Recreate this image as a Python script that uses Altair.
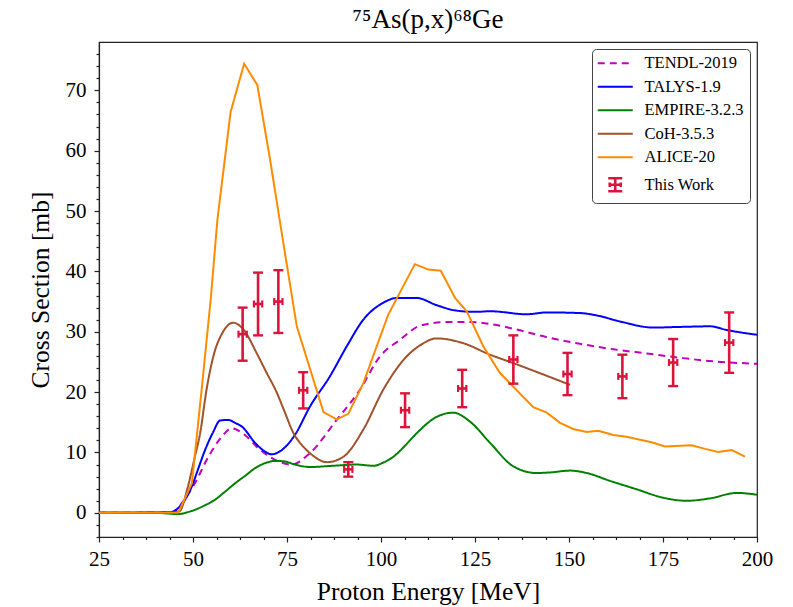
import altair as alt
import pandas as pd

# ---------------- data ----------------
names = ["TENDL-2019", "TALYS-1.9", "EMPIRE-3.2.3", "CoH-3.5.3", "ALICE-20", "This Work"]
colors = ["#bf00bf", "#0000ff", "#008000", "#a0522d", "#ff8c00", "#dc143c"]

tendl_E = [25, 45, 47.0, 50.5, 54.1, 57.5, 60.3, 63.8, 67.4, 70.9, 76.2, 81.1, 88.2, 94.4,
           99.7, 105.1, 110.4, 117.5, 123.7, 129.0, 135.2, 144.1, 152.9, 161.8, 170.7, 179.5, 188.4, 200]
tendl_v = [0, 0.1, 1.6, 4.9, 9.3, 12.5, 14.0, 12.9, 10.7, 9.1, 8.0, 9.9, 15.4, 20.4,
           25.9, 28.7, 31.0, 31.6, 31.6, 31.3, 30.5, 29.1, 28.0, 27.1, 26.4, 25.7, 25.1, 24.7]

talys_E = [25, 44, 45.2, 47.5, 49.7, 51.5, 53.2, 55.3, 57.2, 59.4, 61.2, 63.0, 66.5, 68.8, 70.9,
           73.6, 77.1, 81.1, 86.4, 90.9, 95.3, 100.6, 104.2, 109.5, 114.8, 120.1, 125.4, 129.0,
           138.7, 144.1, 152.9, 157.4, 163.6, 172.4, 179.5, 187.5, 191.9, 200]
talys_v = [0, 0.1, 0.4, 1.8, 4.4, 7.5, 10.4, 13.3, 15.3, 15.4, 14.9, 14.3, 11.6, 10.3, 9.7,
           10.4, 12.9, 17.6, 22.6, 27.6, 32.0, 34.8, 35.6, 35.6, 34.4, 33.5, 33.3, 33.4,
           32.9, 33.2, 33.1, 32.7, 31.7, 30.7, 30.8, 30.9, 30.3, 29.5]

empire_E = [25, 40, 46.1, 48.5, 50.5, 53, 55.9, 58.5, 61.2, 64, 66.5, 69, 71.8, 74.5, 77.1,
            81.1, 87.3, 93.5, 98.0, 100.5, 103.3, 106.5, 109.5, 114.8, 119.2, 123.7, 129.0,
            135.2, 141.4, 145, 150.3, 154.7, 160.9, 168.0, 175.1, 181.3, 187.5, 194.6, 200]
empire_v = [0, 0, -0.2, 0.1, 0.5, 1.2, 2.2, 3.5, 4.9, 6.2, 7.4, 8.2, 8.6, 8.5, 8.0,
            7.6, 7.8, 8.0, 7.8, 8.3, 9.3, 11.2, 13.2, 15.9, 16.6, 15.1, 11.6,
            7.7, 6.6, 6.7, 7.0, 6.6, 5.3, 3.9, 2.5, 2.0, 2.4, 3.3, 3.0]

coh_E = [25, 45, 46.5, 48.5, 50.5, 51.9, 53.6, 55.4, 58, 60.7, 63.5, 66.9, 69.5, 72.3, 74.2,
         76.9, 79.0, 81.1, 85.6, 90.0, 95.3, 100.6, 106.8, 110.5, 114.8, 121.9, 129.0, 135.2, 142, 150.3]
coh_v = [0, 0, 0.3, 4.0, 9.3, 13.2, 20.4, 25.9, 30.0, 31.5, 30.3, 26.5, 23.3, 19.9, 17.0,
         13.0, 11.2, 9.9, 8.4, 9.3, 13.8, 20.4, 25.9, 27.8, 28.9, 28.1, 26.2, 24.8, 23.2, 21.2]

alice_E = [25, 46.1, 49.7, 52.3, 54.7, 56.5, 60.0, 63.6, 67.1, 70.5, 74.0, 77.6, 84.7, 88.2,
           91.3, 95.3, 101.9, 109.0, 112.6, 115.9, 119.7, 122.8, 127.2, 131.6, 135.2, 140.5,
           144.1, 147.6, 151.1, 154.7, 157.8, 161.8, 165.3, 168.9, 172.0, 175.5, 182.6, 186.2,
           189.7, 193.3, 196.8]
alice_v = [0, 0.05, 4.9, 20.4, 35.3, 48.6, 66.4, 74.4, 70.9, 58.5, 44.8, 30.9, 16.7, 15.5,
           16.4, 21.5, 32.8, 41.2, 40.3, 40.1, 35.6, 33.4, 27.6, 23.2, 20.9, 17.5,
           16.6, 14.9, 13.9, 13.4, 13.6, 12.9, 12.6, 12.1, 11.7, 11.0, 11.2, 10.6,
           10.1, 10.4, 9.3]

exp_E = [63.2, 67.3, 72.7, 79.3, 91.3, 106.4, 121.6, 135.2, 149.6, 164.2, 177.7, 192.6]
exp_v = [29.6, 34.6, 35.0, 20.3, 7.2, 17.0, 20.6, 25.4, 23.0, 22.6, 24.9, 28.2]
exp_dy = [4.4, 5.2, 5.2, 3.0, 1.2, 2.8, 3.1, 4.0, 3.5, 3.6, 3.9, 5.0]
exp_dx = [1.1, 1.1, 1.1, 1.1, 1.1, 1.1, 1.1, 1.1, 1.1, 1.1, 1.1, 1.1]

x_ticks = [25 + 6.25 * i for i in range(29)]
y_ticks = [-4 + 2 * i for i in range(41)]

# ---------------- tables ----------------
smooth = []
for nm, E, V in [("TENDL-2019", tendl_E, tendl_v), ("TALYS-1.9", talys_E, talys_v),
                 ("EMPIRE-3.2.3", empire_E, empire_v), ("CoH-3.5.3", coh_E, coh_v)]:
    for e, v in zip(E, V):
        smooth.append({"model": nm, "E": e, "xs": v})
smooth_df = pd.DataFrame(smooth)
alice_df = pd.DataFrame({"model": "ALICE-20", "E": alice_E, "xs": alice_v})

pts = pd.DataFrame({"E": exp_E, "xs": exp_v, "dy": exp_dy, "dx": exp_dx})
pts["lo"] = pts["xs"] - pts["dy"]
pts["hi"] = pts["xs"] + pts["dy"]
pts["xlo"] = pts["E"] - pts["dx"]
pts["xhi"] = pts["E"] + pts["dx"]

# ---------------- scales / axes ----------------
xscale = alt.Scale(domain=[25, 200], nice=False, zero=False)
yscale = alt.Scale(domain=[-4, 78], nice=False, zero=False)

xaxis = alt.Axis(
    values=x_ticks,
    labelExpr="datum.value % 25 === 0 ? datum.label : ''",
    tickSize={"condition": {"test": "datum.value % 25 === 0", "value": 5}, "value": 2.5},
    labelPadding=6, labelOverlap=False, labelFlush=False,
    title="Proton Energy [MeV]", titlePadding=10,
)
yaxis = alt.Axis(
    values=y_ticks,
    labelExpr="datum.value % 10 === 0 ? datum.label : ''",
    tickSize={"condition": {"test": "datum.value % 10 === 0", "value": 5}, "value": 3},
    labelPadding=8, labelOverlap=False, labelFlush=False,
    title="Cross Section [mb]", titlePadding=12,
)


def X(field):
    return alt.X(field, scale=xscale, axis=xaxis)


def Y(field):
    return alt.Y(field, scale=yscale, axis=yaxis)


err_path = ("M-1.4,-1.3H1.4M0,-1.3V1.3M-1.4,1.3H1.4"
            "M-1.1,0H1.1M-1.1,-0.45V0.45M1.1,-0.45V0.45")
line_path = "M-3.5,0H3.5"

legend = alt.Legend(
    title=None, orient="top-right", offset=7,
    fillColor="white", strokeColor="#444", cornerRadius=4, padding=6,
    labelFont="Liberation Serif", labelFontSize=16.5, labelColor="black",
    symbolSize=100, symbolOffset=9, labelOffset=21, rowPadding=6.5,
    symbolType={"expr": "datum.value === 'This Work' ? '" + err_path + "' : '" + line_path + "'"},
    symbolDash={"expr": "datum.value === 'TENDL-2019' ? [7, 5] : [1, 0]"},
    symbolStrokeWidth={"expr": "datum.value === 'This Work' ? 2.6 : 2"},
)

color = alt.Color("model:N", scale=alt.Scale(domain=names, range=colors), legend=legend)

smooth_layer = alt.Chart(smooth_df).mark_line(interpolate="monotone", strokeWidth=2, clip=True).encode(
    x=X("E:Q"), y=Y("xs:Q"),
    color=color,
    strokeDash=alt.StrokeDash("model:N", scale=alt.Scale(
        domain=names, range=[[7, 5], [1, 0], [1, 0], [1, 0], [1, 0], [1, 0]]), legend=None),
    detail="model:N",
)

alice_layer = alt.Chart(alice_df).mark_line(strokeWidth=2, clip=True).encode(
    x=X("E:Q"), y=Y("xs:Q"), color=color,
)

crimson = "#dc143c"
base = alt.Chart(pts)
vbar = base.mark_rule(strokeWidth=2.6, color=crimson).encode(x=X("E:Q"), y=Y("lo:Q"), y2="hi:Q")
hbar = base.mark_rule(strokeWidth=2.6, color=crimson).encode(x=X("xlo:Q"), x2="xhi:Q", y=Y("xs:Q"))
cap_top = base.mark_tick(orient="horizontal", size=10, thickness=2.4, color=crimson, opacity=1).encode(
    x=X("E:Q"), y=Y("hi:Q"))
cap_bot = base.mark_tick(orient="horizontal", size=10, thickness=2.4, color=crimson, opacity=1).encode(
    x=X("E:Q"), y=Y("lo:Q"))
cap_l = base.mark_tick(orient="vertical", size=7, thickness=2.2, color=crimson, opacity=1).encode(
    x=X("xlo:Q"), y=Y("xs:Q"))
cap_r = base.mark_tick(orient="vertical", size=7, thickness=2.2, color=crimson, opacity=1).encode(
    x=X("xhi:Q"), y=Y("xs:Q"))

chart = alt.layer(
    smooth_layer, alice_layer, vbar, hbar, cap_top, cap_bot, cap_l, cap_r
).properties(
    width=658, height=495,
    title=alt.Title("⁷⁵As(p,x)⁶⁸Ge", fontSize=27, offset=8),
    autosize="none",
    padding={"left": 99, "top": 42, "right": 36, "bottom": 70},
).configure_view(
    stroke="#222", strokeWidth=1.2
).configure_axis(
    domainColor="#222", tickColor="#222", tickWidth=1.2, domainWidth=1.2, grid=False,
    labelFont="Liberation Serif", titleFont="Liberation Serif",
    labelFontSize=21, titleFontSize=25.5, labelColor="black", titleColor="black",
    titleFontWeight="normal",
).configure_title(
    font="Liberation Serif", fontWeight="normal", color="black", anchor="middle"
)

chart.save("out.html", embed_options={"renderer": "svg", "actions": False})
